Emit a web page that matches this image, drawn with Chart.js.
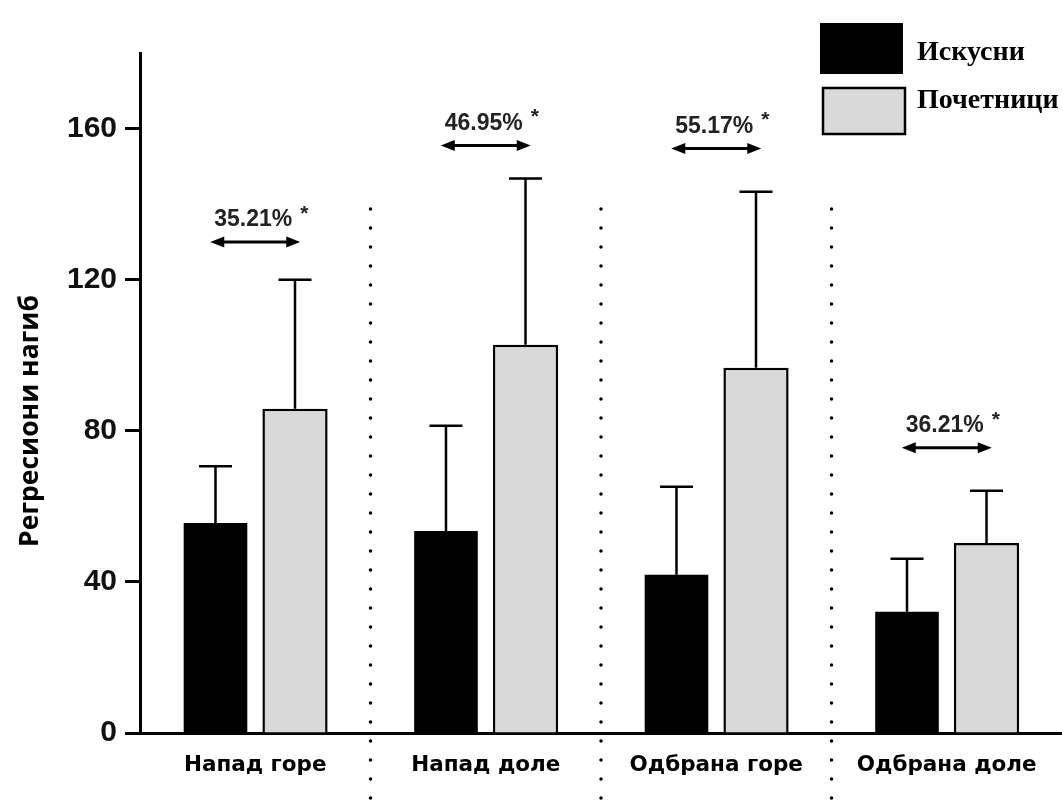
<!DOCTYPE html>
<html>
<head>
<meta charset="utf-8">
<script src="https://cdn.jsdelivr.net/npm/chart.js@4.4.1/dist/chart.umd.min.js"></script>
<style>
  html, body { margin: 0; padding: 0; background: #fff; }
  #wrap { width: 1062px; height: 806px; }
</style>
</head>
<body>
<div id="wrap"><canvas id="slopeChart" width="1062" height="806"></canvas></div>
<script>
// Data
const categories = ["Напад горе", "Напад доле", "Одбрана горе", "Одбрана доле"]
const expertMeans = [55.6, 53.5, 41.9, 32.1]
const expertSD = [15.0, 27.8, 23.3, 14.0]
const noviceMeans = [85.8, 102.8, 96.7, 50.3]
const noviceSD = [34.2, 44.0, 46.6, 13.8]
const diffLabels = ["35.21%", "46.95%", "55.17%", "36.21%"]
const diffArrowLevel = [130, 155.5, 154.7, 75.5]
const yTicks = [0, 40, 80, 120, 160]

// Upward-only SD whiskers
const errorBarsPlugin = {
  id: "errorBars",
  afterDatasetsDraw(chart) {
    const ctx = chart.ctx
    const yScale = chart.scales.y
    chart.data.datasets.forEach((ds, i) => {
      const meta = chart.getDatasetMeta(i)
      meta.data.forEach((bar, j) => {
        const top = yScale.getPixelForValue(ds.data[j] + ds.errors[j])
        ctx.save()
        ctx.strokeStyle = "#000"
        ctx.lineWidth = 2.5
        ctx.beginPath()
        ctx.moveTo(bar.x, bar.y)
        ctx.lineTo(bar.x, top)
        ctx.moveTo(bar.x - 16.5, top)
        ctx.lineTo(bar.x + 16.5, top)
        ctx.stroke()
        ctx.restore()
      })
    })
  },
}

// Separators, difference arrows, legend and y title
const decorPlugin = {
  id: "decor",
  afterDraw(chart) {
    const ctx = chart.ctx
    const xScale = chart.scales.x
    const yScale = chart.scales.y

    // dotted separators between groups
    ctx.save()
    ctx.strokeStyle = "#000"
    ctx.lineWidth = 3.5
    ctx.lineCap = "round"
    ctx.setLineDash([0, 19])
    for (let i = 0; i < categories.length - 1; i++) {
      const sx = (xScale.getPixelForValue(i) + xScale.getPixelForValue(i + 1)) / 2
      ctx.beginPath()
      ctx.moveTo(sx, 209)
      ctx.lineTo(sx, 806)
      ctx.stroke()
    }
    ctx.restore()

    // double arrows with percentage labels
    diffLabels.forEach((label, i) => {
      const cx = xScale.getPixelForValue(i)
      const ay = yScale.getPixelForValue(diffArrowLevel[i])
      const half = 45
      ctx.save()
      ctx.strokeStyle = "#000"
      ctx.fillStyle = "#000"
      ctx.lineWidth = 3
      ctx.beginPath()
      ctx.moveTo(cx - half + 8, ay)
      ctx.lineTo(cx + half - 8, ay)
      ctx.stroke()
      ctx.beginPath()
      ctx.moveTo(cx - half, ay)
      ctx.lineTo(cx - half + 14, ay - 5.5)
      ctx.lineTo(cx - half + 14, ay + 5.5)
      ctx.closePath()
      ctx.fill()
      ctx.beginPath()
      ctx.moveTo(cx + half, ay)
      ctx.lineTo(cx + half - 14, ay - 5.5)
      ctx.lineTo(cx + half - 14, ay + 5.5)
      ctx.closePath()
      ctx.fill()

      ctx.font = "bold 23px 'Liberation Sans', Arial, sans-serif"
      ctx.textAlign = "center"
      ctx.textBaseline = "middle"
      ctx.fillStyle = "#222"
      ctx.fillText(label, cx - 2, ay - 22)
      const w = ctx.measureText(label).width
      ctx.font = "bold 21px 'Liberation Sans', Arial, sans-serif"
      ctx.fillText("*", cx - 2 + w / 2 + 12, ay - 28)
      ctx.restore()
    })

    // legend
    ctx.save()
    ctx.fillStyle = chart.data.datasets[0].backgroundColor
    ctx.fillRect(820, 23, 83, 51)
    ctx.fillStyle = chart.data.datasets[1].backgroundColor
    ctx.fillRect(823, 88, 82, 46)
    ctx.strokeStyle = "#000"
    ctx.lineWidth = 2.5
    ctx.strokeRect(823, 88, 82, 46)
    ctx.fillStyle = "#000"
    ctx.font = "bold 28px 'Liberation Serif', 'Times New Roman', serif"
    ctx.textAlign = "left"
    ctx.textBaseline = "middle"
    ctx.fillText(chart.data.datasets[0].label, 917, 53)
    ctx.fillText(chart.data.datasets[1].label, 917, 101)
    ctx.restore()

    // y axis title
    ctx.save()
    ctx.translate(30, 421)
    ctx.rotate(-Math.PI / 2)
    ctx.font = "bold 26.5px 'Open Sans', sans-serif"
    ctx.textAlign = "center"
    ctx.textBaseline = "middle"
    ctx.fillStyle = "#000"
    ctx.fillText("Регресиони нагиб", 0, 0)
    ctx.restore()
  },
}

const chartCtx = document.getElementById("slopeChart")
new Chart(chartCtx, {
  type: "bar",
  data: {
    labels: categories,
    datasets: [
      {
        label: "Искусни",
        data: expertMeans,
        errors: expertSD,
        backgroundColor: "#000000",
        borderWidth: 0,
        categoryPercentage: 0.69,
        barPercentage: 0.8,
      },
      {
        label: "Почетници",
        data: noviceMeans,
        errors: noviceSD,
        backgroundColor: "#d9d9d9",
        borderColor: "#000000",
        borderWidth: 2.5,
        categoryPercentage: 0.69,
        barPercentage: 0.82,
      },
    ],
  },
  options: {
    responsive: false,
    animation: false,
    devicePixelRatio: 1,
    layout: { padding: { top: 53, right: 0, bottom: 0, left: 0 } },
    plugins: {
      legend: { display: false },
      tooltip: { enabled: false },
    },
    scales: {
      x: {
        afterFit: (scale) => { scale.height = 73 },
        grid: { display: false, drawTicks: false },
        border: { display: true, color: "#000", width: 3 },
        ticks: {
          color: "#000",
          padding: 20,
          font: { family: "'DejaVu Sans'", weight: "bold", size: 21.5 },
        },
      },
      y: {
        min: 0,
        max: 180,
        afterFit: (scale) => { scale.width = 140 },
        afterBuildTicks: (scale) => { scale.ticks = yTicks.map((v) => ({ value: v })) },
        grid: {
          drawOnChartArea: false,
          drawTicks: true,
          tickLength: 15,
          tickWidth: 3,
          tickColor: "#000",
        },
        border: { display: true, color: "#000", width: 3 },
        ticks: {
          color: "#111",
          padding: 8,
          font: { family: "'Liberation Sans', Arial", weight: "bold", size: 30 },
        },
      },
    },
  },
  plugins: [errorBarsPlugin, decorPlugin],
})
</script>
</body>
</html>
